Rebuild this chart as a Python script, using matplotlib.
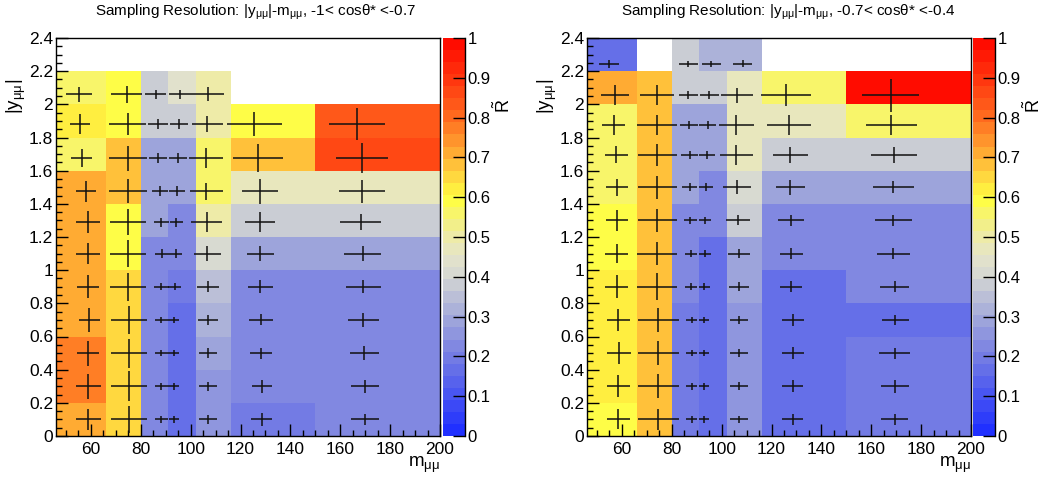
import numpy as np
import matplotlib
matplotlib.use("Agg")
import matplotlib.pyplot as plt
from matplotlib.colors import LinearSegmentedColormap
from matplotlib.ticker import MultipleLocator, FuncFormatter

plt.rcParams["font.family"] = "Liberation Sans"
plt.rcParams["mathtext.fontset"] = "custom"
plt.rcParams["mathtext.rm"] = "Liberation Sans"
plt.rcParams["mathtext.it"] = "Liberation Sans:italic"
plt.rcParams["mathtext.default"] = "regular"

nan = np.nan

# bin edges
m_edges = [46, 66, 80, 91, 102, 116, 150, 200]
y_edges = [0.0, 0.2, 0.4, 0.6, 0.8, 1.0, 1.2, 1.4, 1.6, 1.8, 2.0, 2.2, 2.4]

titles = ["Sampling Resolution: |y$_{μμ}$|-m$_{μμ}$, -1< cosθ* <-0.7",
          "Sampling Resolution: |y$_{μμ}$|-m$_{μμ}$, -0.7< cosθ* <-0.4"]

# ---- panel 1 : -1 < cos < -0.7   (rows = |y| bins from bottom, cols = m bins)
val_L = [
    [0.72, 0.65, 0.22, 0.18, 0.25, 0.19, 0.22],
    [0.76, 0.66, 0.22, 0.18, 0.25, 0.22, 0.22],
    [0.76, 0.66, 0.22, 0.18, 0.30, 0.22, 0.23],
    [0.72, 0.66, 0.22, 0.18, 0.32, 0.22, 0.23],
    [0.72, 0.66, 0.22, 0.20, 0.36, 0.23, 0.23],
    [0.72, 0.60, 0.23, 0.23, 0.42, 0.29, 0.29],
    [0.72, 0.60, 0.29, 0.23, 0.49, 0.37, 0.37],
    [0.72, 0.67, 0.30, 0.28, 0.55, 0.48, 0.48],
    [0.56, 0.67, 0.30, 0.30, 0.57, 0.68, 0.85],
    [0.63, 0.60, 0.37, 0.37, 0.50, 0.58, 0.82],
    [0.55, 0.60, 0.38, 0.43, 0.50, nan, nan],
    [nan, nan, nan, nan, nan, nan, nan],
]
yc_L = [0.10, 0.30, 0.50, 0.70, 0.90, 1.10, 1.29, 1.475, 1.675, 1.88, 2.06, nan]
xc_L = [
    [58.9, 75.3, 88.3, 93.3, 106.9, 128.5, 170.0],
    [58.9, 75.3, 88.3, 93.2, 106.9, 128.6, 170.0],
    [58.9, 75.3, 88.3, 93.2, 106.9, 128.3, 169.7],
    [59.3, 75.3, 88.3, 93.2, 106.9, 128.3, 169.3],
    [58.9, 74.9, 88.3, 93.6, 106.9, 127.9, 169.3],
    [58.9, 74.9, 88.7, 94.3, 106.7, 127.9, 169.0],
    [58.9, 74.9, 88.3, 94.3, 106.5, 127.8, 168.2],
    [58.0, 74.9, 87.6, 94.5, 106.3, 127.9, 168.7],
    [56.3, 74.8, 86.9, 94.9, 106.3, 126.9, 168.7],
    [55.6, 74.7, 86.9, 95.3, 106.7, 125.6, 166.7],
    [55.3, 74.3, 86.0, 95.9, 106.9, nan, nan],
    [nan, nan, nan, nan, nan, nan, nan],
]
xe_L = [
    [5.0, 7.3, 2.7, 2.1, 3.5, 4.1, 5.5],
    [5.0, 7.3, 2.7, 2.1, 3.5, 4.1, 5.7],
    [4.5, 7.3, 2.7, 2.1, 3.6, 4.4, 5.9],
    [4.2, 7.3, 2.7, 2.1, 3.9, 4.7, 6.2],
    [4.5, 7.3, 2.9, 2.5, 4.4, 5.0, 7.0],
    [4.7, 7.1, 3.0, 2.4, 5.3, 5.5, 7.3],
    [4.7, 7.2, 3.0, 2.7, 6.2, 6.2, 8.3],
    [4.1, 7.5, 3.3, 3.2, 6.7, 7.3, 9.2],
    [4.3, 7.7, 3.7, 3.6, 6.8, 10.0, 10.4],
    [4.0, 7.5, 4.0, 3.7, 6.1, 10.9, 11.3],
    [5.2, 6.1, 4.3, 4.7, 6.5, nan, nan],
    [nan, nan, nan, nan, nan, nan, nan],
]
ye_L = [
    [0.063, 0.080, 0.020, 0.020, 0.027, 0.038, 0.035],
    [0.075, 0.090, 0.020, 0.020, 0.027, 0.040, 0.040],
    [0.075, 0.087, 0.020, 0.020, 0.030, 0.033, 0.040],
    [0.070, 0.083, 0.020, 0.020, 0.030, 0.033, 0.040],
    [0.070, 0.085, 0.022, 0.022, 0.033, 0.040, 0.040],
    [0.065, 0.080, 0.025, 0.025, 0.045, 0.045, 0.045],
    [0.067, 0.080, 0.027, 0.027, 0.060, 0.060, 0.050],
    [0.064, 0.072, 0.030, 0.030, 0.053, 0.073, 0.070],
    [0.055, 0.075, 0.030, 0.030, 0.060, 0.085, 0.090],
    [0.060, 0.067, 0.030, 0.030, 0.048, 0.073, 0.098],
    [0.047, 0.050, 0.025, 0.025, 0.042, nan, nan],
    [nan, nan, nan, nan, nan, nan, nan],
]

# ---- panel 2 : -0.7 < cos < -0.4
val_R = [
    [0.60, 0.68, 0.20, 0.16, 0.25, 0.18, 0.19],
    [0.62, 0.68, 0.20, 0.16, 0.25, 0.18, 0.21],
    [0.63, 0.68, 0.20, 0.16, 0.25, 0.18, 0.21],
    [0.62, 0.68, 0.20, 0.16, 0.25, 0.18, 0.18],
    [0.62, 0.68, 0.22, 0.18, 0.30, 0.18, 0.22],
    [0.60, 0.68, 0.23, 0.18, 0.30, 0.22, 0.22],
    [0.60, 0.67, 0.23, 0.23, 0.38, 0.23, 0.23],
    [0.55, 0.67, 0.30, 0.23, 0.42, 0.30, 0.30],
    [0.56, 0.67, 0.30, 0.30, 0.48, 0.38, 0.38],
    [0.56, 0.67, 0.30, 0.30, 0.48, 0.48, 0.55],
    [0.72, 0.67, 0.37, 0.37, 0.48, 0.56, 0.99],
    [0.18, nan, 0.37, 0.31, 0.31, nan, nan],
]
yc_R = [0.10, 0.30, 0.50, 0.70, 0.90, 1.10, 1.30, 1.50, 1.695, 1.875, 2.055, 2.245]
xc_R = [
    [58.6, 74.6, 88.0, 93.1, 106.9, 128.5, 169.4],
    [58.6, 74.6, 88.0, 93.1, 106.9, 128.5, 169.6],
    [58.8, 74.6, 88.0, 93.1, 106.9, 128.5, 169.4],
    [58.6, 74.6, 88.0, 93.1, 106.9, 128.5, 169.6],
    [57.9, 74.0, 87.8, 93.1, 106.9, 127.9, 169.4],
    [57.9, 74.0, 87.8, 93.4, 106.9, 127.9, 168.9],
    [58.1, 74.1, 87.5, 93.4, 106.6, 127.9, 168.9],
    [58.0, 74.1, 87.2, 93.7, 106.2, 127.6, 168.9],
    [57.7, 74.1, 87.2, 94.1, 105.9, 127.6, 169.2],
    [56.7, 74.1, 87.0, 94.4, 105.9, 126.9, 168.1],
    [57.1, 74.1, 86.7, 95.1, 106.2, 125.9, 167.8],
    [54.7, nan, 86.7, 95.9, 108.4, nan, nan],
]
xe_R = [
    [4.5, 8.1, 2.3, 2.0, 3.55, 4.2, 5.4],
    [4.5, 8.1, 2.3, 2.0, 3.55, 4.1, 5.6],
    [4.7, 8.1, 2.3, 2.0, 3.75, 4.4, 6.1],
    [4.5, 8.1, 2.3, 2.0, 3.75, 4.4, 5.4],
    [4.7, 7.9, 2.3, 2.1, 4.0, 4.35, 5.8],
    [4.7, 7.9, 2.5, 2.35, 4.3, 4.6, 6.6],
    [4.4, 7.8, 2.7, 2.5, 4.9, 5.2, 7.4],
    [4.4, 7.8, 3.0, 2.9, 5.7, 6.0, 8.2],
    [4.6, 7.8, 3.35, 3.35, 6.7, 7.2, 9.25],
    [4.7, 8.0, 3.55, 3.5, 6.9, 8.8, 10.2],
    [5.6, 6.8, 3.75, 3.8, 6.3, 10.0, 11.4],
    [4.0, nan, 4.0, 3.7, 3.9, nan, nan],
]
ye_R = [
    [0.060, 0.065, 0.020, 0.020, 0.023, 0.033, 0.033],
    [0.065, 0.073, 0.020, 0.020, 0.023, 0.036, 0.040],
    [0.065, 0.070, 0.020, 0.020, 0.023, 0.036, 0.033],
    [0.065, 0.070, 0.020, 0.020, 0.023, 0.038, 0.030],
    [0.070, 0.080, 0.020, 0.020, 0.027, 0.033, 0.033],
    [0.055, 0.070, 0.022, 0.022, 0.028, 0.035, 0.033],
    [0.062, 0.070, 0.022, 0.022, 0.030, 0.033, 0.035],
    [0.052, 0.068, 0.025, 0.025, 0.043, 0.045, 0.037],
    [0.051, 0.065, 0.025, 0.025, 0.060, 0.050, 0.050],
    [0.058, 0.060, 0.025, 0.025, 0.058, 0.060, 0.060],
    [0.060, 0.062, 0.025, 0.025, 0.045, 0.065, 0.099],
    [0.023, nan, 0.018, 0.018, 0.020, nan, nan],
]

cb_ticks = [0, 0.1, 0.2, 0.3, 0.4, 0.5, 0.6, 0.7, 0.8, 0.9, 1.0]

# ROOT-like palette (blue -> grey -> yellow -> red), 33 contour levels
stops = [0.0, 0.2, 0.3, 0.4, 0.45, 0.5, 0.55, 0.6, 0.65, 0.7, 0.8, 0.9, 1.0]
stop_colors = ["#2030ff", "#7880e2", "#a6acda", "#d6d8d2", "#e4e4ca", "#eeeba8",
               "#f5f278", "#ffff40", "#ffdc40", "#ffb838", "#ff7020", "#ff3a10", "#ff0c00"]
cmap = LinearSegmentedColormap.from_list("root", list(zip(stops, stop_colors)), N=33)

W, H = 1053, 482
fig = plt.figure(figsize=(W / 100, H / 100), dpi=100)

panels = [
    (val_L, yc_L, xc_L, xe_L, ye_L, 56, 443, 256),
    (val_R, yc_R, xc_R, xe_R, ye_R, 587, 973, 788),
]
fmt = FuncFormatter(lambda v, p: f"{v:g}")

for i, (val, yc, xc, xe, ye, ax_left, cb_left, title_x) in enumerate(panels):
    ax = fig.add_axes([ax_left / W, 46 / H, 384 / W, 398 / H])
    vals = np.ma.masked_invalid(np.array(val))
    mesh = ax.pcolormesh(m_edges, y_edges, vals, cmap=cmap, vmin=0, vmax=1)

    xc = np.array(xc)
    yy = np.repeat(np.array(yc)[:, None], xc.shape[1], axis=1)
    ok = ~np.isnan(xc)
    ax.errorbar(xc[ok], yy[ok], xerr=np.array(xe)[ok], yerr=np.array(ye)[ok],
                fmt="none", ecolor="#111111", elinewidth=1.1, capsize=0)

    ax.set_xlim(46, 200)
    ax.set_ylim(0, 2.4)
    ax.xaxis.set_major_locator(MultipleLocator(20))
    ax.xaxis.set_minor_locator(MultipleLocator(5))
    ax.yaxis.set_major_locator(MultipleLocator(0.2))
    ax.yaxis.set_minor_locator(MultipleLocator(0.05))
    ax.xaxis.set_major_formatter(fmt)
    ax.yaxis.set_major_formatter(fmt)
    ax.tick_params(which="both", direction="in", width=1, labelsize=12.5)
    ax.tick_params(which="major", length=8.5)
    ax.tick_params(which="minor", length=4.3)
    ax.tick_params(axis="x", pad=4)
    ax.tick_params(axis="y", pad=2)
    for s in ax.spines.values():
        s.set_linewidth(1.0)

    cax = fig.add_axes([cb_left / W, 46 / H, 22 / W, 398 / H])
    cb = fig.colorbar(mesh, cax=cax, ticks=cb_ticks, format=fmt)
    cb.outline.set_visible(False)
    cax.plot([1, 1], [0, 1], transform=cax.transAxes, color="black", lw=1.0, clip_on=False)
    cax.tick_params(direction="in", length=8.5, width=1, labelsize=12, pad=2)

    fig.text(title_x / W, 1 - 12 / H, titles[i], ha="center", va="center", fontsize=11)
    fig.text((ax_left - 40) / W, 1 - 96 / H, "|y$_{μμ}$|", rotation=90,
             ha="center", va="center", fontsize=13.5)
    fig.text((ax_left + 384) / W, 1 - 465 / H, "m$_{μμ}$", ha="right", va="center", fontsize=13.5)
    fig.text((cb_left + 60) / W, 1 - 106 / H, r"$\tilde{R}$", rotation=90,
             ha="center", va="center", fontsize=13)

fig.savefig("out.png", dpi=100)
